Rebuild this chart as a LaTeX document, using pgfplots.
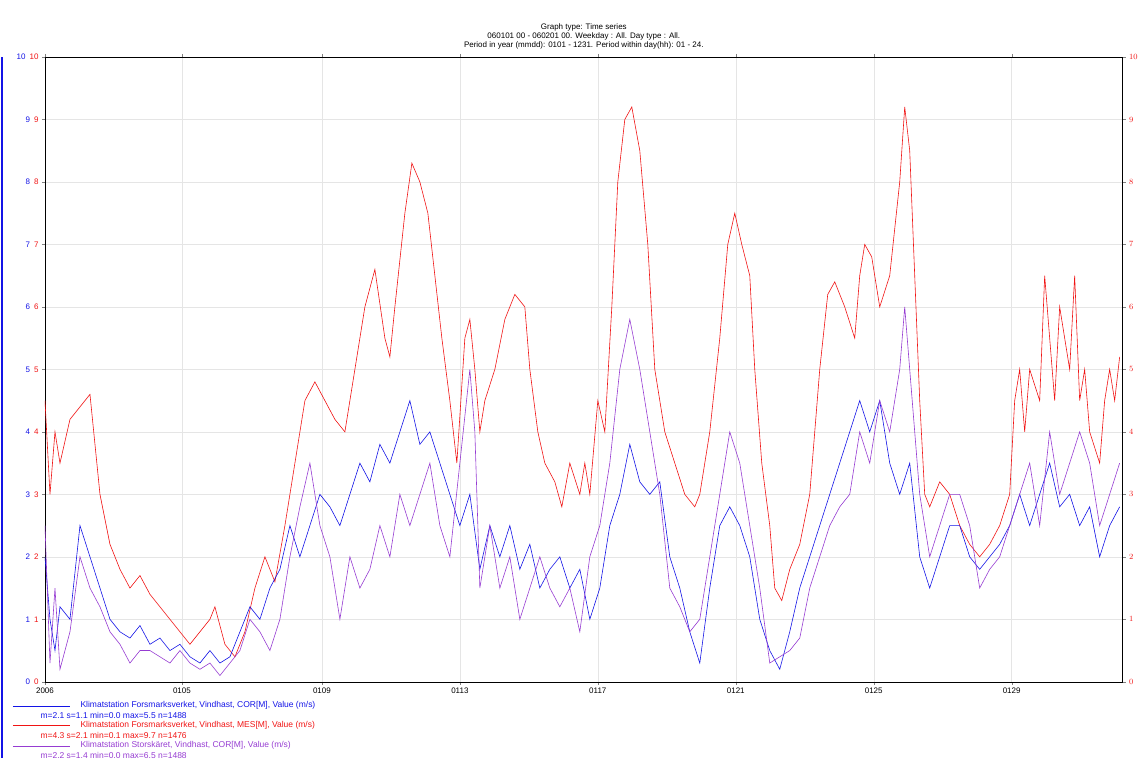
\documentclass[border=0pt]{standalone}
\usepackage{pgfplots}
\pgfplotsset{compat=1.18}
\usepackage{fontspec}
\setmainfont{Liberation Sans}
\definecolor{cblue}{RGB}{20,20,230}
\definecolor{cred}{RGB}{240,20,20}
\definecolor{cpur}{RGB}{150,60,210}
\begin{document}
\begin{tikzpicture}[x=1pt,y=1pt]
\begin{axis}[name=main,scale only axis,width=1078pt,height=625pt,
  xmin=45,xmax=1123,ymin=0,ymax=10,
  xtick={45,182,322,460,598,736,874,1012},
  xticklabels={2006,0105,0109,0113,0117,0121,0125,0129},
  ytick={0,...,10},
  yticklabel={\textcolor{cblue}{\pgfmathprintnumber{\tick}}\hspace{4pt}\textcolor{cred}{\pgfmathprintnumber{\tick}}},
  grid=major, grid style={gray!20},
  tick label style={font=\fontsize{8}{9}\selectfont},
  /pgf/number format/assume math mode=true,
  axis line style={black}, axis y line*=left,
  tick align=outside, major tick length=3pt,
  title style={font=\fontsize{8}{9}\selectfont,align=center,yshift=-2pt},
  title={Graph type: Time series\\060101 00 - 060201 00. Weekday : All. Day type : All.\\Period in year (mmdd): 0101 - 1231. Period within day(hh): 01 - 24.},
  ]
\addplot[cred,line width=0.6pt] coordinates {(45,4.5)(50,3.0)(55,4.0)(60,3.5)(70,4.2)(80,4.4)(90,4.6)(95,3.8)(100,3.0)(110,2.2)(120,1.8)(130,1.5)(140,1.7)(150,1.4)(160,1.2)(170,1.0)(180,0.8)(190,0.6)(200,0.8)(210,1.0)(215,1.2)(225,0.6)(235,0.4)(245,0.8)(255,1.5)(265,2.0)(275,1.6)(285,2.5)(295,3.5)(305,4.5)(315,4.8)(325,4.5)(335,4.2)(345,4.0)(355,5.0)(365,6.0)(375,6.6)(385,5.5)(390,5.2)(395,6.0)(405,7.5)(412,8.3)(420,8.0)(428,7.5)(435,6.5)(442,5.5)(450,4.5)(457,3.5)(465,5.5)(470,5.8)(475,5.0)(480,4.0)(485,4.5)(495,5.0)(505,5.8)(515,6.2)(525,6.0)(530,5.0)(538,4.0)(545,3.5)(555,3.2)(562,2.8)(570,3.5)(580,3.0)(585,3.5)(590,3.0)(598,4.5)(605,4.0)(612,6.0)(618,8.0)(625,9.0)(632,9.2)(640,8.5)(648,7.0)(655,5.0)(665,4.0)(675,3.5)(685,3.0)(695,2.8)(700,3.0)(710,4.0)(720,5.5)(728,7.0)(735,7.5)(742,7.0)(750,6.5)(755,5.0)(762,3.5)(770,2.5)(775,1.5)(782,1.3)(790,1.8)(800,2.2)(810,3.0)(815,4.0)(820,5.0)(828,6.2)(835,6.4)(840,6.2)(845,6.0)(855,5.5)(860,6.5)(865,7.0)(872,6.8)(880,6.0)(890,6.5)(900,8.0)(905,9.2)(910,8.5)(915,6.5)(920,4.5)(925,3.0)(930,2.8)(940,3.2)(950,3.0)(960,2.5)(970,2.2)(980,2.0)(990,2.2)(1000,2.5)(1010,3.0)(1015,4.5)(1020,5.0)(1025,4.0)(1030,5.0)(1040,4.5)(1045,6.5)(1050,5.5)(1055,4.5)(1060,6.0)(1070,5.0)(1075,6.5)(1080,4.5)(1085,5.0)(1090,4.0)(1100,3.5)(1105,4.5)(1110,5.0)(1115,4.5)(1120,5.2)};
\addplot[cblue,line width=0.6pt] coordinates {(45,2.0)(50,1.0)(55,0.5)(60,1.2)(70,1.0)(80,2.5)(90,2.0)(100,1.5)(110,1.0)(120,0.8)(130,0.7)(140,0.9)(150,0.6)(160,0.7)(170,0.5)(180,0.6)(190,0.4)(200,0.3)(210,0.5)(220,0.3)(230,0.4)(240,0.8)(250,1.2)(260,1.0)(270,1.5)(280,1.8)(290,2.5)(300,2.0)(310,2.5)(320,3.0)(330,2.8)(340,2.5)(350,3.0)(360,3.5)(370,3.2)(380,3.8)(390,3.5)(400,4.0)(410,4.5)(420,3.8)(430,4.0)(440,3.5)(450,3.0)(460,2.5)(470,3.0)(480,1.8)(490,2.5)(500,2.0)(510,2.5)(520,1.8)(530,2.2)(540,1.5)(550,1.8)(560,2.0)(570,1.5)(580,1.8)(590,1.0)(600,1.5)(610,2.5)(620,3.0)(630,3.8)(640,3.2)(650,3.0)(660,3.2)(670,2.0)(680,1.5)(690,0.8)(700,0.3)(710,1.5)(720,2.5)(730,2.8)(740,2.5)(750,2.0)(760,1.0)(770,0.5)(780,0.2)(790,0.8)(800,1.5)(810,2.0)(820,2.5)(830,3.0)(840,3.5)(850,4.0)(860,4.5)(870,4.0)(880,4.5)(890,3.5)(900,3.0)(910,3.5)(920,2.0)(930,1.5)(940,2.0)(950,2.5)(960,2.5)(970,2.0)(980,1.8)(990,2.0)(1000,2.2)(1010,2.5)(1020,3.0)(1030,2.5)(1040,3.0)(1050,3.5)(1060,2.8)(1070,3.0)(1080,2.5)(1090,2.8)(1100,2.0)(1110,2.5)(1120,2.8)};
\addplot[cpur,line width=0.6pt] coordinates {(45,2.5)(50,0.3)(55,1.5)(60,0.2)(70,0.8)(80,2.0)(90,1.5)(100,1.2)(110,0.8)(120,0.6)(130,0.3)(140,0.5)(150,0.5)(160,0.4)(170,0.3)(180,0.5)(190,0.3)(200,0.2)(210,0.3)(220,0.1)(230,0.3)(240,0.5)(250,1.0)(260,0.8)(270,0.5)(280,1.0)(290,2.0)(300,2.8)(310,3.5)(320,2.5)(330,2.0)(340,1.0)(350,2.0)(360,1.5)(370,1.8)(380,2.5)(390,2.0)(400,3.0)(410,2.5)(420,3.0)(430,3.5)(440,2.5)(450,2.0)(460,3.5)(470,5.0)(475,4.0)(480,1.5)(490,2.5)(500,1.5)(510,2.0)(520,1.0)(530,1.5)(540,2.0)(550,1.5)(560,1.2)(570,1.5)(580,0.8)(590,2.0)(600,2.5)(610,3.5)(620,5.0)(630,5.8)(640,5.0)(650,4.0)(660,3.0)(670,1.5)(680,1.2)(690,0.8)(700,1.0)(710,2.0)(720,3.0)(730,4.0)(740,3.5)(750,2.5)(760,1.5)(770,0.3)(780,0.4)(790,0.5)(800,0.7)(810,1.5)(820,2.0)(830,2.5)(840,2.8)(850,3.0)(860,4.0)(870,3.5)(880,4.5)(890,4.0)(900,5.0)(905,6.0)(910,5.0)(920,3.0)(930,2.0)(940,2.5)(950,3.0)(960,3.0)(970,2.5)(980,1.5)(990,1.8)(1000,2.0)(1010,2.5)(1020,3.0)(1030,3.5)(1040,2.5)(1050,4.0)(1060,3.0)(1070,3.5)(1080,4.0)(1090,3.5)(1100,2.5)(1110,3.0)(1120,3.5)};
\end{axis}
\begin{axis}[scale only axis,width=1078pt,height=625pt,
  xmin=45,xmax=1123,ymin=0,ymax=10,ytick={0,...,10},
  axis x line=none, axis y line*=right,
  yticklabel style={cred,font=\fontsize{8}{9}\selectfont},
  tick align=outside, major tick length=3pt]
\end{axis}
\begin{scope}[shift={(main.south west)},font=\fontsize{8.5}{9}\selectfont]
\draw[cblue] (-32,-24)--(25,-24); \node[cblue,anchor=west] at (32,-24) {Klimatstation Forsmarksverket, Vindhast, COR[M], Value (m/s)};
\node[cblue,anchor=west] at (-8,-34) {m=2.1 s=1.1 min=0.0 max=5.5 n=1488};
\draw[cred,line width=0.8pt] (-32,-44)--(25,-44); \node[cred,anchor=west] at (32,-44) {Klimatstation Forsmarksverket, Vindhast, MES[M], Value (m/s)};
\node[cred,anchor=west] at (-8,-54) {m=4.3 s=2.1 min=0.1 max=9.7 n=1476};
\draw[cpur] (-32,-64)--(25,-64); \node[cpur,anchor=west] at (32,-64) {Klimatstation Storskäret, Vindhast, COR[M], Value (m/s)};
\node[cpur,anchor=west] at (-8,-74) {m=2.2 s=1.4 min=0.0 max=6.5 n=1488};
\draw[cblue,line width=1.2pt] (-43,-76)--(-43,625);
\useasboundingbox (-45,-76) rectangle (1096,682);
\end{scope}
\end{tikzpicture}
\end{document}
